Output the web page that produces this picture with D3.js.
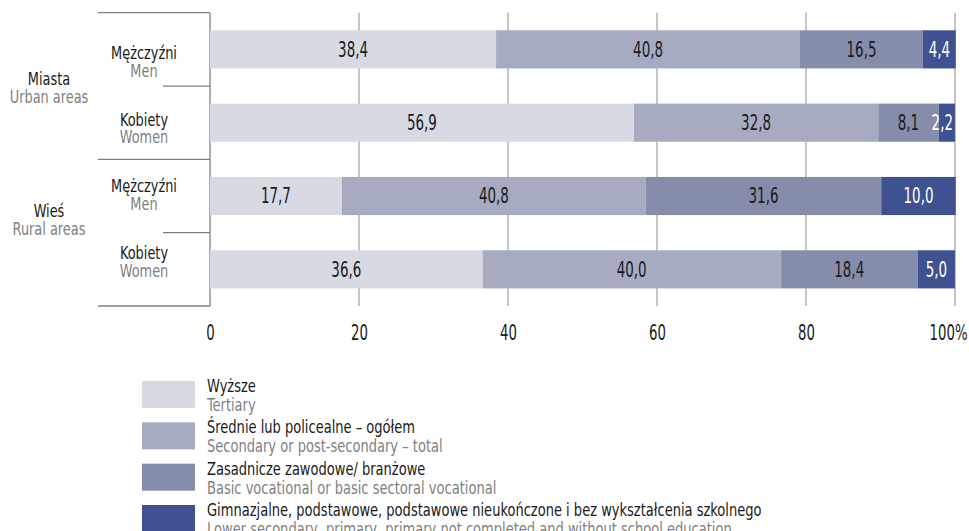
<!DOCTYPE html>
<html>
<head>
    <meta charset="utf-8">
    <title>Education by area and sex</title>
    <script src="https://d3js.org/d3.v7.min.js"></script>
    <style>
        body { margin: 0; background: #fff; }
        svg text { font-family: "DejaVu Sans Condensed", "Liberation Sans", sans-serif; }
    </style>
</head>
<body>
    <div id="chart"></div>

    <script>
        // row labels (top to bottom)
        const rows = ["mu", "wu", "mr", "wr"];
        const rowPl = ["Mężczyźni", "Kobiety", "Mężczyźni", "Kobiety"];
        const rowEn = ["Men", "Women", "Men", "Women"];
        const groupPl = ["Miasta", "Wieś"];
        const groupEn = ["Urban areas", "Rural areas"];

        // education levels, one array per series (in row order)
        const keys = ["tertiary", "secondary", "vocational", "lower"];
        const tertiary   = [38.4, 56.9, 17.7, 36.6];
        const secondary  = [40.8, 32.8, 40.8, 40.0];
        const vocational = [16.5, 8.1, 31.6, 18.4];
        const lower      = [4.4, 2.2, 10.0, 5.0];

        const legendPl = ["Wyższe", "Średnie lub policealne – ogółem", "Zasadnicze zawodowe/ branżowe",
            "Gimnazjalne, podstawowe, podstawowe nieukończone i bez wykształcenia szkolnego"];
        const legendEn = ["Tertiary", "Secondary or post-secondary – total", "Basic vocational or basic sectoral vocational",
            "Lower secondary, primary, primary not completed and without school education"];

        const xTicks = [0, 20, 40, 60, 80, 100];

        const colors = ["#d7dae3", "#a6abc1", "#858dab", "#3f5190"];
        const labelColors = ["#1a1a1a", "#1a1a1a", "#1a1a1a", "#ffffff"];

        const table = rows.map((r, i) => ({
            row: r, tertiary: tertiary[i], secondary: secondary[i],
            vocational: vocational[i], lower: lower[i]
        }));
        const stacked = d3.stack().keys(keys)(table);

        const width = 969, height = 531;
        const svg = d3.select("#chart").append("svg")
            .attr("width", width)
            .attr("height", height);

        // the original uses a condensed face; squeeze DejaVu Condensed a bit more
        function squeeze(px, py, s) {
            return "translate(" + px + "," + py + ") scale(" + s + ",1)";
        }

        const x = d3.scaleLinear().domain([0, 100]).range([210, 955]);
        const y = d3.scaleBand().domain(rows).range([12.7, 306]).paddingInner(0.48).paddingOuter(0.24);
        const step = y.step();
        const yTop = y.range()[0], yBottom = y.range()[1];

        // gridlines
        svg.append("g").selectAll("line")
            .data(xTicks.slice(1))
            .join("line")
              .attr("x1", d => x(d)).attr("x2", d => x(d))
              .attr("y1", yTop).attr("y2", yBottom)
              .attr("stroke", "#8c8c8c").attr("stroke-width", 1);

        // left frame
        const frame = svg.append("g").attr("stroke", "#7f7f7f").attr("stroke-width", 1.3);
        frame.append("line").attr("x1", x(0)).attr("x2", x(0)).attr("y1", yTop).attr("y2", yBottom);
        [0, 2, 4].forEach(k => {
            frame.append("line").attr("x1", 98).attr("x2", x(0))
                .attr("y1", yTop + k * step).attr("y2", yTop + k * step);
        });
        [1, 3].forEach(k => {
            frame.append("line").attr("x1", 163).attr("x2", x(0))
                .attr("y1", yTop + k * step).attr("y2", yTop + k * step);
        });

        // bars
        const layers = svg.append("g").selectAll("g")
            .data(stacked)
            .join("g")
              .attr("fill", (d, i) => colors[i]);

        layers.selectAll("rect")
            .data(d => d)
            .join("rect")
              .attr("x", d => x(d[0]))
              .attr("width", d => x(d[1]) - x(d[0]))
              .attr("y", d => y(d.data.row))
              .attr("height", y.bandwidth());

        const labelScale = 0.73;
        layers.each(function(layer, i) {
            d3.select(this).selectAll("text")
                .data(layer)
                .join("text")
                  .attr("dy", "0.36em")
                  .attr("text-anchor", "middle")
                  .attr("font-size", 20.5)
                  .attr("fill", labelColors[i])
                  .text(d => d3.format(".1f")(d[1] - d[0]).replace(".", ","))
                  .attr("transform", function(d) {
                      // keep narrow-segment labels inside the 100% line
                      const half = this.getComputedTextLength() * labelScale / 2;
                      const cx = Math.min((x(d[0]) + x(d[1])) / 2, x(100) - half - 2);
                      return squeeze(cx, y(d.data.row) + y.bandwidth() / 2, labelScale);
                  });
        });

        // x axis labels
        const xAxis = svg.append("g")
            .attr("transform", "translate(0," + 333 + ")")
            .call(d3.axisBottom(x).tickValues(xTicks).tickSize(0)
                .tickFormat(d => d === 100 ? "100%" : d));
        xAxis.select(".domain").remove();
        xAxis.attr("font-family", null).attr("font-size", null);
        xAxis.selectAll("text")
            .attr("font-size", 20.5)
            .attr("fill", "#1a1a1a")
            .attr("y", 0).attr("dy", "0.36em")
            .attr("transform", squeeze(0, 0, 0.72));
        xAxis.selectAll(".tick").filter(d => d === 100).select("text")
            .attr("text-anchor", "end")
            .attr("transform", squeeze(12, 0, 0.72));

        // row labels
        const rowY = d3.scalePoint().domain(rows).range([59, 259]);
        const rowG = svg.append("g").attr("text-anchor", "middle").attr("font-size", 17.5);
        rows.forEach((r, i) => {
            rowG.append("text").attr("transform", squeeze(144, rowY(r), 0.82))
                .attr("fill", "#1a1a1a").text(rowPl[i]);
            rowG.append("text").attr("transform", squeeze(144, rowY(r) + 17.5, 0.82))
                .attr("fill", "#7f7f7f").text(rowEn[i]);
        });

        // group labels
        const groupY = d3.scalePoint().domain(groupPl).range([85, 217]);
        const groupG = svg.append("g").attr("text-anchor", "middle").attr("font-size", 17.5);
        groupPl.forEach((g, i) => {
            groupG.append("text").attr("transform", squeeze(49, groupY(g), 0.82))
                .attr("fill", "#1a1a1a").text(g);
            groupG.append("text").attr("transform", squeeze(49, groupY(g) + 18, 0.82))
                .attr("fill", "#7f7f7f").text(groupEn[i]);
        });

        // legend
        const legY = d3.scalePoint().domain(keys).range([381, 505]);
        const legend = svg.append("g").attr("font-size", 18);
        keys.forEach((k, i) => {
            legend.append("rect").attr("x", 142).attr("y", legY(k))
                .attr("width", 53).attr("height", 27).attr("fill", colors[i]);
            legend.append("text").attr("transform", squeeze(207, legY(k) + 11, 0.806))
                .attr("fill", "#1a1a1a").text(legendPl[i]);
            legend.append("text").attr("transform", squeeze(207, legY(k) + 30, 0.806))
                .attr("fill", "#7f7f7f").text(legendEn[i]);
        });
    </script>
</body>
</html>
